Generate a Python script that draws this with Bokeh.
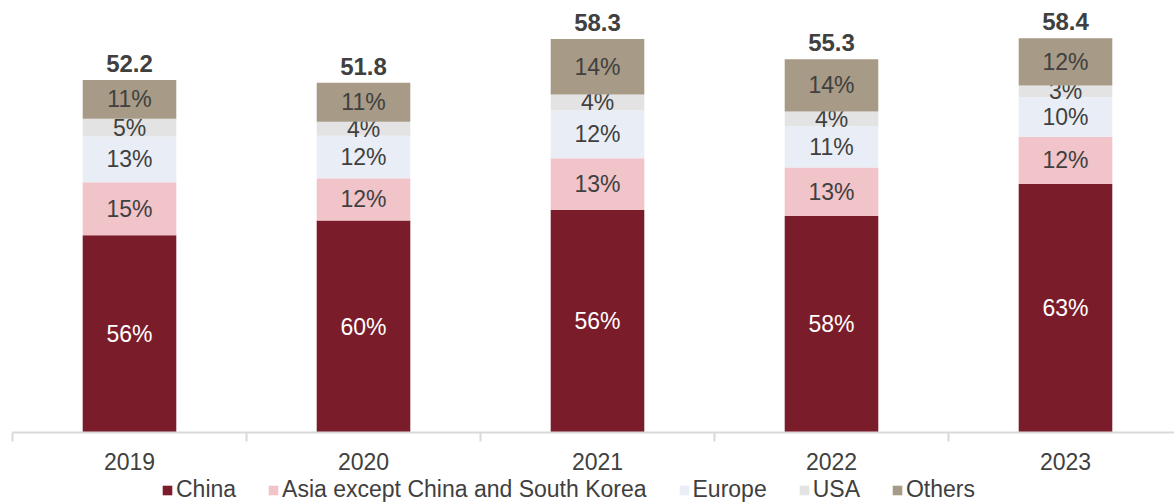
from bokeh.plotting import figure
from bokeh.layouts import column
from bokeh.models import ColumnDataSource, Range1d, FixedTicker, Legend, LegendItem
from bokeh.core.properties import value
from bokeh.embed import file_html
from bokeh.resources import INLINE

years = ["2019", "2020", "2021", "2022", "2023"]
totals = [52.2, 51.8, 58.3, 55.3, 58.4]
china = [56, 60, 56, 58, 63]
asia = [15, 12, 13, 13, 12]
europe = [13, 12, 12, 11, 10]
usa = [5, 4, 4, 4, 3]
others = [11, 11, 14, 14, 12]

series = [("China", china, "#7B1C2A", "white"),
          ("Asia except China and South Korea", asia, "#F0C4C8", "#404040"),
          ("Europe", europe, "#E9EEF6", "#404040"),
          ("USA", usa, "#E3E3E3", "#404040"),
          ("Others", others, "#A79A86", "#404040")]

FONT = "Liberation Sans"
n = len(years)
xs = list(range(n))
sums = [sum(s[1][i] for s in series) for i in range(n)]

p = figure(width=1174, frame_height=424, output_backend="svg", toolbar_location=None,
           x_range=Range1d(-0.5, -0.5 + 1162 / 234), y_range=Range1d(0, 62.8),
           min_border_left=12, min_border_right=0, min_border_top=8, min_border_bottom=44,
           outline_line_color=None)
p.grid.visible = False
p.yaxis.visible = False

sources = []
bottoms = [0.0] * n
for name, vals, color, tcol in series:
    tops = [bottoms[i] + vals[i] / sums[i] * totals[i] for i in range(n)]
    src = ColumnDataSource(dict(x=xs, bottom=bottoms, top=tops,
                                mid=[(bottoms[i] + tops[i]) / 2 for i in range(n)],
                                lab=[f"{v}%" for v in vals]))
    sources.append(src)
    p.vbar(x="x", bottom="bottom", top="top", width=0.4, source=src,
           fill_color=color, line_color=None)
    p.text(x="x", y="mid", text="lab", source=src, text_align="center",
           text_baseline="middle", text_font=value(FONT), text_font_size="23px",
           text_color=tcol)
    bottoms = tops

tsrc = ColumnDataSource(dict(x=xs, y=totals, lab=[f"{t:.1f}" for t in totals]))
p.text(x="x", y="y", text="lab", source=tsrc, text_align="center",
       text_baseline="bottom", y_offset=-8, text_font=value(FONT),
       text_font_size="24px", text_font_style="bold", text_color="#404040")

ax = p.xaxis[0]
ax.ticker = FixedTicker(ticks=xs, minor_ticks=[i - 0.5 for i in range(n + 1)])
ax.major_label_overrides = {i: years[i] for i in range(n)}
ax.major_tick_line_color = None
ax.major_tick_out = 0
ax.major_tick_in = 0
ax.minor_tick_out = 9
ax.minor_tick_in = 0
ax.minor_tick_line_color = "#D9D9D9"
ax.minor_tick_line_width = 2
ax.axis_line_color = "#D9D9D9"
ax.axis_line_width = 2
ax.major_label_text_font = FONT
ax.major_label_text_font_size = "23px"
ax.major_label_text_color = "#404040"
ax.major_label_standoff = 11

# legend strip (its renderers share the data but lie outside its visible range)
lg = figure(width=1174, height=27, output_backend="svg", toolbar_location=None,
            x_range=Range1d(-100, -99), y_range=Range1d(-100, -99),
            min_border=0, outline_line_color=None)
lg.axis.visible = False
lg.grid.visible = False
items = []
for (name, vals, color, tcol), src in zip(series, sources):
    r = lg.vbar(x="x", bottom="bottom", top="top", width=0.4, source=src,
                fill_color=color, line_color=None)
    items.append(LegendItem(label=name, renderers=[r]))
legend = Legend(items=items, orientation="horizontal", location=(149, 0),
                label_text_font=FONT, label_text_font_size="23px",
                label_text_color="#404040", glyph_width=12, glyph_height=12,
                label_standoff=3, spacing=31, padding=0, margin=0,
                border_line_color=None, background_fill_alpha=0,
                label_height=24)
lg.add_layout(legend)

layout = column(p, lg, spacing=0)
open("out.html", "w").write(file_html(layout, INLINE))
